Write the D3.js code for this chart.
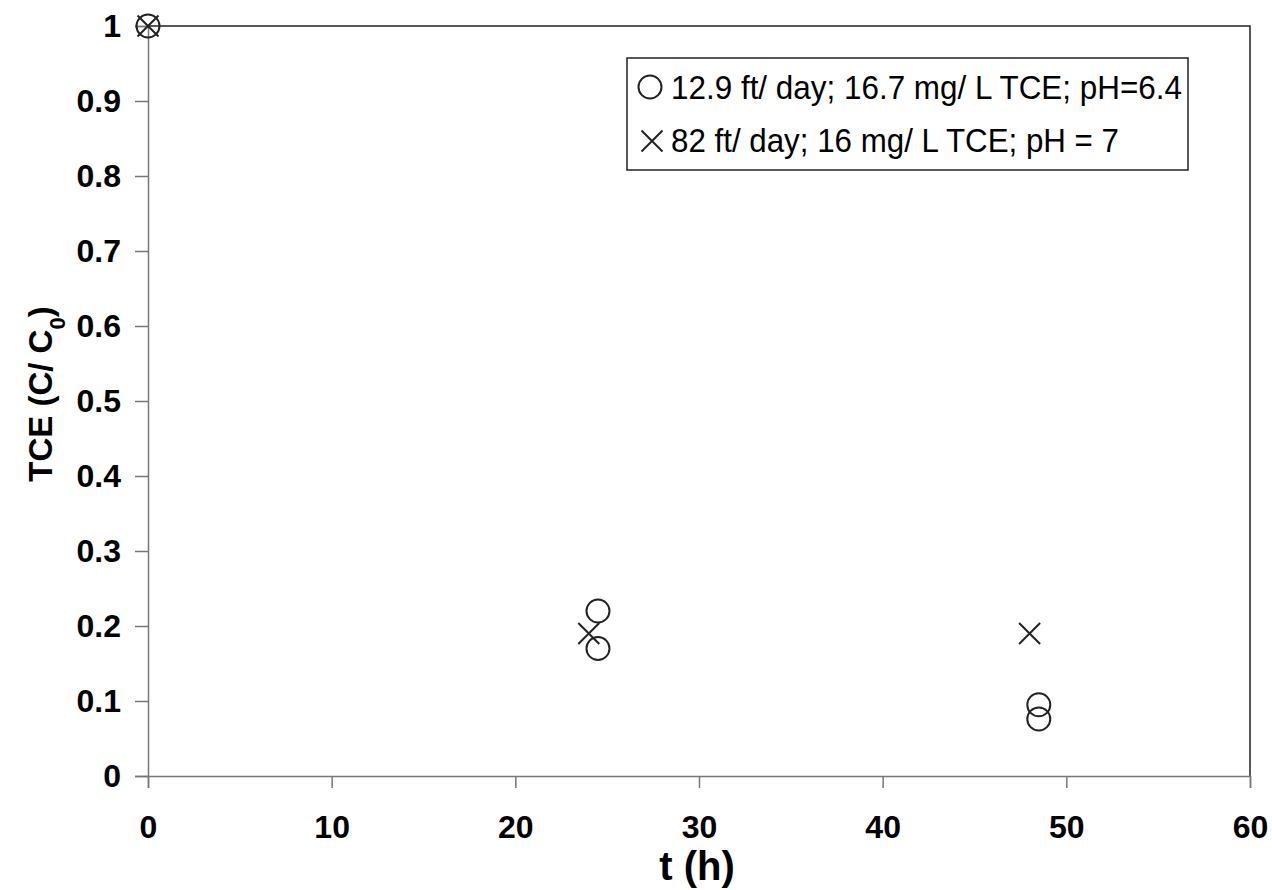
<!DOCTYPE html>
<html>
<head>
<meta charset="utf-8">
<script src="https://cdn.jsdelivr.net/npm/d3@7"></script>
<style>
  body { margin: 0; background: #fff; }
  svg { display: block; }
  text { font-family: "Liberation Sans", Arial, sans-serif; }
</style>
</head>
<body>
<svg id="chart" width="1272" height="890"></svg>
<script>
// Series: 12.9 ft/day, 16.7 mg/L TCE, pH 6.4 (circles)
const lowFlowTime = [0, 24.5, 24.5, 48.5, 48.5];
const lowFlowConc = [1, 0.22, 0.17, 0.095, 0.076];
// Series: 82 ft/day, 16 mg/L TCE, pH 7 (crosses)
const highFlowTime = [0, 24, 48];
const highFlowConc = [1, 0.19, 0.19];

const xTicks = [0, 10, 20, 30, 40, 50, 60];
const yTicks = [0, 0.1, 0.2, 0.3, 0.4, 0.5, 0.6, 0.7, 0.8, 0.9, 1];
const legendLabels = ["12.9 ft/ day; 16.7 mg/ L TCE; pH=6.4", "82 ft/ day; 16 mg/ L TCE; pH = 7"];

const svg = d3.select("#chart");
const plot = { left: 148, right: 1250, top: 26, bottom: 776 };

const x = d3.scaleLinear().domain([0, 60]).range([plot.left, plot.right]);
const y = d3.scaleLinear().domain([0, 1]).range([plot.bottom, plot.top]);

// frame: top and right edges
svg.append("path")
  .attr("d", `M${plot.left},${plot.top}H${plot.right}V${plot.bottom}`)
  .attr("fill", "none").attr("stroke", "#222").attr("stroke-width", 1.5);

// axes
const xAxis = svg.append("g").attr("transform", `translate(0,${plot.bottom})`)
  .call(d3.axisBottom(x).tickValues(xTicks).tickSize(12).tickPadding(27).tickFormat(d3.format("d")));
const yAxis = svg.append("g").attr("transform", `translate(${plot.left},0)`)
  .call(d3.axisLeft(y).tickValues(yTicks).tickSize(13).tickPadding(14)
    .tickFormat(d => d === 0 || d === 1 ? d3.format("d")(d) : d3.format(".1f")(d)));

[xAxis, yAxis].forEach(g => {
  g.select(".domain").attr("stroke", "#777").attr("stroke-width", 1.5);
  g.selectAll(".tick line").attr("stroke", "#777").attr("stroke-width", 1.5);
  g.selectAll(".tick text")
    .attr("fill", "#000")
    .style("font-size", "32px")
    .style("font-weight", "bold")
    .style("font-family", "'Liberation Sans', Arial, sans-serif");
});

// axis titles
svg.append("text")
  .attr("x", 697).attr("y", 880)
  .attr("text-anchor", "middle")
  .style("font-size", "40px").style("font-weight", "bold")
  .text("t (h)");

const yTitle = svg.append("text")
  .attr("transform", `translate(52,394) rotate(-90)`)
  .attr("text-anchor", "middle")
  .style("font-size", "33px").style("font-weight", "bold");
yTitle.append("tspan").text("TCE (C/ C");
yTitle.append("tspan").attr("baseline-shift", "sub").style("font-size", "22px").text("0");
yTitle.append("tspan").text(")");

// markers
const markerStroke = "#222";
const r = 11.5;
const crossHalf = 10.5;

svg.append("g").selectAll("circle")
  .data(lowFlowTime.map((t, i) => [t, lowFlowConc[i]]))
  .join("circle")
  .attr("cx", d => x(d[0])).attr("cy", d => y(d[1]))
  .attr("r", r)
  .attr("fill", "none").attr("stroke", markerStroke).attr("stroke-width", 2);

const crossPath = (cx, cy, h) => `M${cx - h},${cy - h}L${cx + h},${cy + h}M${cx - h},${cy + h}L${cx + h},${cy - h}`;

svg.append("g").selectAll("path")
  .data(highFlowTime.map((t, i) => [t, highFlowConc[i]]))
  .join("path")
  .attr("d", d => crossPath(x(d[0]), y(d[1]), crossHalf))
  .attr("fill", "none").attr("stroke", markerStroke).attr("stroke-width", 2);

// legend
const legend = svg.append("g");
legend.append("rect")
  .attr("x", 627).attr("y", 58).attr("width", 561).attr("height", 112)
  .attr("fill", "#fff").attr("stroke", "#222").attr("stroke-width", 1.5);

legend.append("circle")
  .attr("cx", 650).attr("cy", 87).attr("r", r)
  .attr("fill", "none").attr("stroke", markerStroke).attr("stroke-width", 2);
legend.append("path")
  .attr("d", crossPath(652, 141, crossHalf))
  .attr("fill", "none").attr("stroke", markerStroke).attr("stroke-width", 2);

const legendWidths = [511, 448];
legendLabels.forEach((lbl, i) => {
  legend.append("text")
    .attr("x", 671).attr("y", 99 + i * 53)
    .attr("textLength", legendWidths[i])
    .attr("lengthAdjust", "spacingAndGlyphs")
    .style("font-size", "33px")
    .text(lbl);
});
</script>
</body>
</html>
